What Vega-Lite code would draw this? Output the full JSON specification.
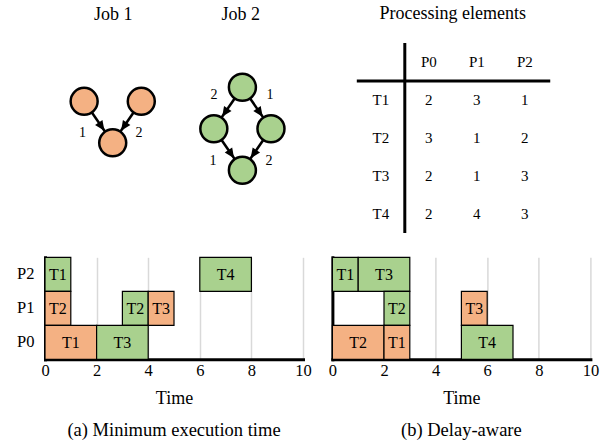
{
  "$schema": "https://vega.github.io/schema/vega-lite/v6.json",
  "padding": {"left": 16, "top": 4, "right": 5, "bottom": 5},
  "spacing": 21.3,
  "config": {
    "font": "Liberation Serif",
    "view": {"stroke": null},
    "axis": {"domainColor": "black", "domainWidth": 3, "domainCap": "square", "ticks": false, "tickSize": 0, "labelColor": "black", "labelFont": "Liberation Serif", "labelFontSize": 16.5, "titleFont": "Liberation Serif", "titleFontSize": 18, "titleFontWeight": "normal", "titleColor": "black", "gridColor": "#d9d9d9", "gridWidth": 1.5},
    "title": {"font": "Liberation Serif", "fontSize": 18, "fontWeight": "normal", "color": "black", "frame": "group"},
    "text": {"font": "Liberation Serif", "color": "black"}
  },
  "datasets": {
    "job1_nodes": [{"node": "a", "x": -1, "y": 0}, {"node": "b", "x": 1, "y": 0}, {"node": "c", "x": 0, "y": 1}],
    "job1_edges": [
      {"x": -1, "y": 0, "x2": 0, "y2": 1, "tipx": -0.29, "tipy": 0.71, "angle": 145.5, "weight": "1", "lx": -1.06, "ly": 0.76},
      {"x": 1, "y": 0, "x2": 0, "y2": 1, "tipx": 0.29, "tipy": 0.71, "angle": 214.5, "weight": "2", "lx": 0.92, "ly": 0.76}
    ],
    "job2_nodes": [{"node": "t", "x": 0, "y": 0}, {"node": "l", "x": -1, "y": 1}, {"node": "r", "x": 1, "y": 1}, {"node": "b", "x": 0, "y": 2}],
    "job2_edges": [
      {"x": 0, "y": 0, "x2": -1, "y2": 1, "tipx": -0.71, "tipy": 0.71, "angle": 214.5, "weight": "2", "lx": -0.99, "ly": 0.18},
      {"x": 0, "y": 0, "x2": 1, "y2": 1, "tipx": 0.71, "tipy": 0.71, "angle": 145.5, "weight": "1", "lx": 0.97, "ly": 0.18},
      {"x": -1, "y": 1, "x2": 0, "y2": 2, "tipx": -0.29, "tipy": 1.71, "angle": 145.5, "weight": "1", "lx": -1.03, "ly": 1.78},
      {"x": 1, "y": 1, "x2": 0, "y2": 2, "tipx": 0.29, "tipy": 1.71, "angle": 214.5, "weight": "2", "lx": 0.93, "ly": 1.78}
    ],
    "table_cells": [
      {"col": 1, "row": 0, "text": "P0"}, {"col": 2, "row": 0, "text": "P1"}, {"col": 3, "row": 0, "text": "P2"},
      {"col": 0, "row": 1, "text": "T1"}, {"col": 1, "row": 1, "text": "2"}, {"col": 2, "row": 1, "text": "3"}, {"col": 3, "row": 1, "text": "1"},
      {"col": 0, "row": 2, "text": "T2"}, {"col": 1, "row": 2, "text": "3"}, {"col": 2, "row": 2, "text": "1"}, {"col": 3, "row": 2, "text": "2"},
      {"col": 0, "row": 3, "text": "T3"}, {"col": 1, "row": 3, "text": "2"}, {"col": 2, "row": 3, "text": "1"}, {"col": 3, "row": 3, "text": "3"},
      {"col": 0, "row": 4, "text": "T4"}, {"col": 1, "row": 4, "text": "2"}, {"col": 2, "row": 4, "text": "4"}, {"col": 3, "row": 4, "text": "3"}
    ],
    "table_rules": [
      {"x": 0.5, "x2": 0.5, "y": -0.5, "y2": 4.5},
      {"x": -0.5, "x2": 3.53, "y": 0.5, "y2": 0.5}
    ],
    "gantt_a": [
      {"pe": "P2", "task": "T1", "job": "Job 2", "start": 0, "end": 1},
      {"pe": "P2", "task": "T4", "job": "Job 2", "start": 6, "end": 8},
      {"pe": "P1", "task": "T2", "job": "Job 1", "start": 0, "end": 1},
      {"pe": "P1", "task": "T2", "job": "Job 2", "start": 3, "end": 4},
      {"pe": "P1", "task": "T3", "job": "Job 1", "start": 4, "end": 5},
      {"pe": "P0", "task": "T1", "job": "Job 1", "start": 0, "end": 2},
      {"pe": "P0", "task": "T3", "job": "Job 2", "start": 2, "end": 4}
    ],
    "gantt_b": [
      {"pe": "P2", "task": "T1", "job": "Job 2", "start": 0, "end": 1},
      {"pe": "P2", "task": "T3", "job": "Job 2", "start": 1, "end": 3},
      {"pe": "P1", "task": "T2", "job": "Job 2", "start": 2, "end": 3},
      {"pe": "P1", "task": "T3", "job": "Job 1", "start": 5, "end": 6},
      {"pe": "P0", "task": "T2", "job": "Job 1", "start": 0, "end": 2},
      {"pe": "P0", "task": "T1", "job": "Job 1", "start": 2, "end": 3},
      {"pe": "P0", "task": "T4", "job": "Job 2", "start": 5, "end": 7}
    ]
  },
  "vconcat": [
    {
      "bounds": "flush",
      "spacing": 29.4,
      "hconcat": [
        {
          "width": 125, "height": 190,
          "title": {"text": "Job 1", "baseline": "alphabetic", "offset": 4.6, "dx": 5.7},
          "layer": [
            {"data": {"name": "job1_edges"}, "mark": {"type": "rule", "color": "black", "strokeWidth": 2.5},
             "encoding": {
               "x": {"field": "x", "type": "quantitative", "scale": {"domain": [-2.37, 2.005], "nice": false, "zero": false}, "axis": null},
               "y": {"field": "y", "type": "quantitative", "scale": {"domain": [-1.405, 3.173], "nice": false, "zero": false, "reverse": true}, "axis": null},
               "x2": {"field": "x2"}, "y2": {"field": "y2"}}},
            {"data": {"name": "job1_nodes"}, "mark": {"type": "point", "shape": "circle", "filled": true, "size": 729, "fill": "#F4B183", "stroke": "black", "strokeWidth": 2.5, "opacity": 1},
             "encoding": {
               "x": {"field": "x", "type": "quantitative", "scale": {"domain": [-2.37, 2.005], "nice": false, "zero": false}, "axis": null},
               "y": {"field": "y", "type": "quantitative", "scale": {"domain": [-1.405, 3.173], "nice": false, "zero": false, "reverse": true}, "axis": null}}},
            {"data": {"name": "job1_edges"}, "mark": {"type": "point", "shape": "M0,0L0.45,1L-0.45,1Z", "filled": true, "size": 400, "color": "black", "opacity": 1},
             "encoding": {
               "x": {"field": "tipx", "type": "quantitative", "scale": {"domain": [-2.37, 2.005], "nice": false, "zero": false}, "axis": null},
               "y": {"field": "tipy", "type": "quantitative", "scale": {"domain": [-1.405, 3.173], "nice": false, "zero": false, "reverse": true}, "axis": null},
               "angle": {"field": "angle", "type": "quantitative", "scale": null}}},
            {"data": {"name": "job1_edges"}, "mark": {"type": "text", "fontSize": 14, "baseline": "middle", "color": "black"},
             "encoding": {
               "x": {"field": "lx", "type": "quantitative", "scale": {"domain": [-2.37, 2.005], "nice": false, "zero": false}, "axis": null},
               "y": {"field": "ly", "type": "quantitative", "scale": {"domain": [-1.405, 3.173], "nice": false, "zero": false, "reverse": true}, "axis": null},
               "text": {"field": "weight"}}}
          ]
        },
        {
          "width": 127.6, "height": 190,
          "title": {"text": "Job 2", "baseline": "alphabetic", "offset": 4.6, "dx": -22.5},
          "layer": [
            {"data": {"name": "job2_edges"}, "mark": {"type": "rule", "color": "black", "strokeWidth": 2.5},
             "encoding": {
               "x": {"field": "x", "type": "quantitative", "scale": {"domain": [-1.505, 2.961], "nice": false, "zero": false}, "axis": null},
               "y": {"field": "y", "type": "quantitative", "scale": {"domain": [-1.067, 3.511], "nice": false, "zero": false, "reverse": true}, "axis": null},
               "x2": {"field": "x2"}, "y2": {"field": "y2"}}},
            {"data": {"name": "job2_nodes"}, "mark": {"type": "point", "shape": "circle", "filled": true, "size": 729, "fill": "#A9D18E", "stroke": "black", "strokeWidth": 2.5, "opacity": 1},
             "encoding": {
               "x": {"field": "x", "type": "quantitative", "scale": {"domain": [-1.505, 2.961], "nice": false, "zero": false}, "axis": null},
               "y": {"field": "y", "type": "quantitative", "scale": {"domain": [-1.067, 3.511], "nice": false, "zero": false, "reverse": true}, "axis": null}}},
            {"data": {"name": "job2_edges"}, "mark": {"type": "point", "shape": "M0,0L0.45,1L-0.45,1Z", "filled": true, "size": 400, "color": "black", "opacity": 1},
             "encoding": {
               "x": {"field": "tipx", "type": "quantitative", "scale": {"domain": [-1.505, 2.961], "nice": false, "zero": false}, "axis": null},
               "y": {"field": "tipy", "type": "quantitative", "scale": {"domain": [-1.067, 3.511], "nice": false, "zero": false, "reverse": true}, "axis": null},
               "angle": {"field": "angle", "type": "quantitative", "scale": null}}},
            {"data": {"name": "job2_edges"}, "mark": {"type": "text", "fontSize": 14, "baseline": "middle", "color": "black"},
             "encoding": {
               "x": {"field": "lx", "type": "quantitative", "scale": {"domain": [-1.505, 2.961], "nice": false, "zero": false}, "axis": null},
               "y": {"field": "ly", "type": "quantitative", "scale": {"domain": [-1.067, 3.511], "nice": false, "zero": false, "reverse": true}, "axis": null},
               "text": {"field": "weight"}}}
          ]
        },
        {
          "width": 192, "height": 190,
          "title": {"text": "Processing elements", "baseline": "alphabetic", "offset": 4.6},
          "layer": [
            {"data": {"name": "table_rules"}, "mark": {"type": "rule", "color": "black", "strokeWidth": 3},
             "encoding": {
               "x": {"field": "x", "type": "quantitative", "scale": {"domain": [-0.5, 3.5], "nice": false, "zero": false}, "axis": null},
               "y": {"field": "y", "type": "quantitative", "scale": {"domain": [-0.5, 4.5], "nice": false, "zero": false, "reverse": true}, "axis": null},
               "x2": {"field": "x2"}, "y2": {"field": "y2"}}},
            {"data": {"name": "table_cells"}, "mark": {"type": "text", "fontSize": 15, "baseline": "middle", "color": "black"},
             "encoding": {
               "x": {"field": "col", "type": "quantitative", "scale": {"domain": [-0.5, 3.5], "nice": false, "zero": false}, "axis": null},
               "y": {"field": "row", "type": "quantitative", "scale": {"domain": [-0.5, 4.5], "nice": false, "zero": false, "reverse": true}, "axis": null},
               "text": {"field": "text"}}}
          ]
        }
      ]
    },
    {
      "bounds": "flush",
      "spacing": 29.4,
      "hconcat": [
        {
          "width": 258, "height": 102,
          "title": {"text": "(a) Minimum execution time", "orient": "bottom", "offset": 13, "fontSize": 18.5},
          "data": {"name": "gantt_a"},
          "layer": [
            {"mark": {"type": "bar", "stroke": "black", "strokeWidth": 1.2},
             "encoding": {
               "x": {"field": "start", "type": "quantitative", "scale": {"domain": [0, 10], "nice": false}, "axis": {"title": "Time", "values": [0, 2, 4, 6, 8, 10], "grid": true, "labelFlush": false, "labelPadding": 3, "titlePadding": 11}},
               "x2": {"field": "end"},
               "y": {"field": "pe", "type": "nominal", "scale": {"domain": ["P2", "P1", "P0"], "padding": 0}, "axis": {"title": null, "labelPadding": 11, "grid": false}},
               "color": {"field": "job", "type": "nominal", "scale": {"domain": ["Job 1", "Job 2"], "range": ["#F4B183", "#A9D18E"]}, "legend": null}}},
            {"transform": [{"fold": ["start", "end"], "as": ["bound", "t"]}, {"aggregate": [{"op": "mean", "field": "t", "as": "mid"}], "groupby": ["pe", "task", "job"]}],
             "mark": {"type": "text", "fontSize": 16, "baseline": "middle", "dy": 1, "color": "black"},
             "encoding": {
               "x": {"field": "mid", "type": "quantitative", "scale": {"domain": [0, 10], "nice": false}, "axis": {"title": "Time", "values": [0, 2, 4, 6, 8, 10], "grid": true, "labelFlush": false, "labelPadding": 3, "titlePadding": 11}},
               "y": {"field": "pe", "type": "nominal", "scale": {"domain": ["P2", "P1", "P0"], "padding": 0}, "axis": {"title": null, "labelPadding": 11, "grid": false}},
               "text": {"field": "task"}}}
          ]
        },
        {
          "width": 258, "height": 102,
          "title": {"text": "(b) Delay-aware", "orient": "bottom", "offset": 13, "fontSize": 18.5},
          "data": {"name": "gantt_b"},
          "layer": [
            {"mark": {"type": "bar", "stroke": "black", "strokeWidth": 1.2},
             "encoding": {
               "x": {"field": "start", "type": "quantitative", "scale": {"domain": [0, 10], "nice": false}, "axis": {"title": "Time", "values": [0, 2, 4, 6, 8, 10], "grid": true, "labelFlush": false, "labelPadding": 3, "titlePadding": 11}},
               "x2": {"field": "end"},
               "y": {"field": "pe", "type": "nominal", "scale": {"domain": ["P2", "P1", "P0"], "padding": 0}, "axis": {"title": null, "labels": false, "grid": false}},
               "color": {"field": "job", "type": "nominal", "scale": {"domain": ["Job 1", "Job 2"], "range": ["#F4B183", "#A9D18E"]}, "legend": null}}},
            {"transform": [{"fold": ["start", "end"], "as": ["bound", "t"]}, {"aggregate": [{"op": "mean", "field": "t", "as": "mid"}], "groupby": ["pe", "task", "job"]}],
             "mark": {"type": "text", "fontSize": 16, "baseline": "middle", "dy": 1, "color": "black"},
             "encoding": {
               "x": {"field": "mid", "type": "quantitative", "scale": {"domain": [0, 10], "nice": false}, "axis": {"title": "Time", "values": [0, 2, 4, 6, 8, 10], "grid": true, "labelFlush": false, "labelPadding": 3, "titlePadding": 11}},
               "y": {"field": "pe", "type": "nominal", "scale": {"domain": ["P2", "P1", "P0"], "padding": 0}, "axis": {"title": null, "labels": false, "grid": false}},
               "text": {"field": "task"}}}
          ]
        }
      ]
    }
  ]
}
